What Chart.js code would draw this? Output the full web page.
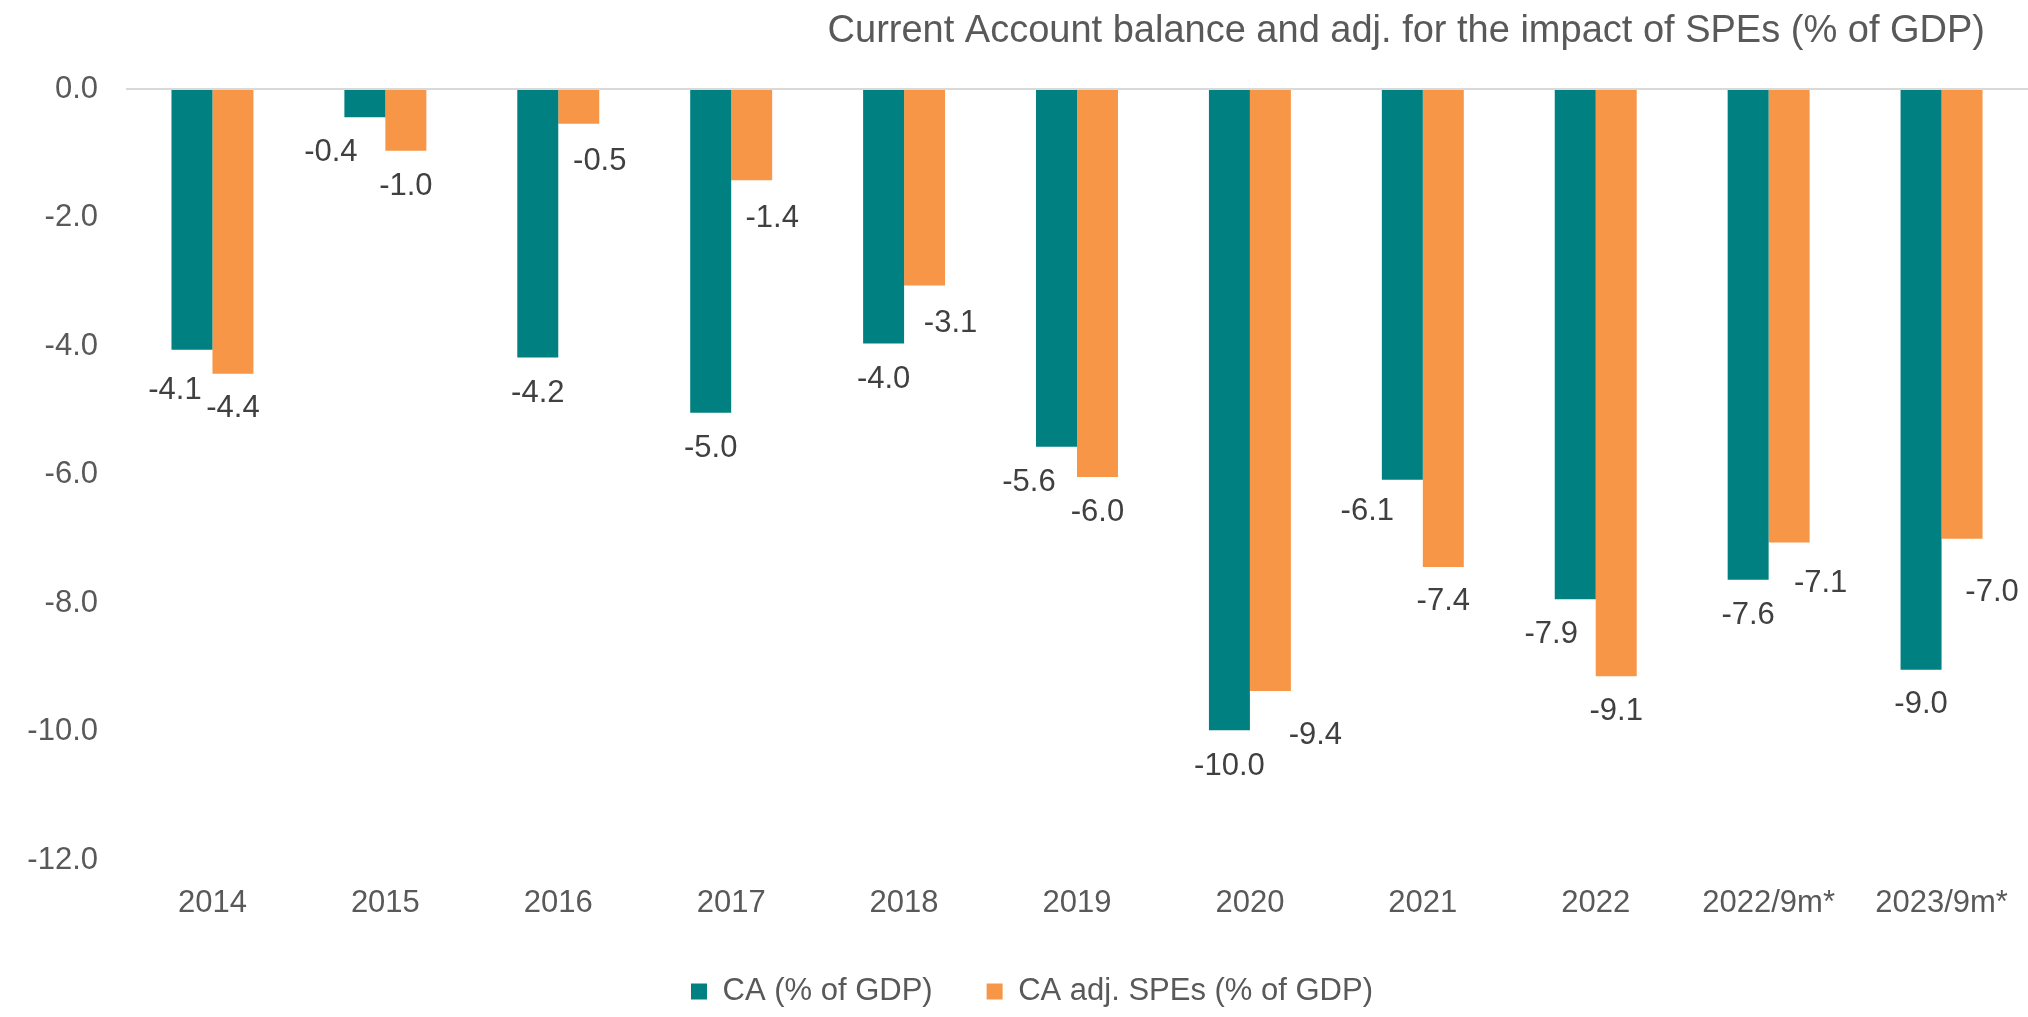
<!DOCTYPE html>
<html><head><meta charset="utf-8">
<script src="https://cdn.jsdelivr.net/npm/chart.js@4.4.0/dist/chart.umd.min.js"></script>
<style>html,body{margin:0;padding:0;background:#fff;overflow:hidden;} #wrap{width:2028px;height:1017px;}</style>
</head><body><div id="wrap"><canvas id="c" width="2028" height="1017"></canvas></div>
<script>
const categories = ['2014','2015','2016','2017','2018','2019','2020','2021','2022','2022/9m*','2023/9m*'];
const caValues = [-4.06,-0.44,-4.18,-5.04,-3.96,-5.57,-9.98,-6.08,-7.94,-7.64,-9.04];
const caAdjValues = [-4.43,-0.96,-0.54,-1.42,-3.06,-6.04,-9.37,-7.44,-9.14,-7.06,-7.00];
const seriesNames = ['CA (% of GDP)','CA adj. SPEs (% of GDP)'];
const yMin = -12, yMax = 0, yStep = 2;
const titleText = 'Current Account balance and adj. for the impact of SPEs (% of GDP)';

const FONT = '"Liberation Sans", Arial, Helvetica, sans-serif';
const TEXT = '#595959';
const LABEL = '#404040';
const COLORS = ['#008080', '#F79646'];
// data-label nudges [dx, dy] in px (label placement only)
const labelShift = [
  [[-17,38],[-34,32.5],[0,33],[0,33],[0,33],[-27.5,33],[0,34],[-35,29.5],[-24,32.5],[0,33],[0,32.5]],
  [[0,32],[0,33],[21,35.5],[20.5,35.3],[26,35.5],[0,33],[45,42],[0,32],[0,33],[31.5,38.5],[30,50.7]]
];

const titlePlugin = {
  id: 'rightTitle',
  afterDraw(chart) {
    const ctx = chart.ctx;
    ctx.save();
    ctx.font = '38px ' + FONT;
    ctx.fillStyle = TEXT;
    ctx.textAlign = 'right';
    ctx.textBaseline = 'alphabetic';
    ctx.fillText(titleText, chart.width - 43, 42);
    ctx.restore();
  }
};

const legendShift = {
  id: 'legendShift',
  afterLayout(chart) {
    if (chart.legend) { chart.legend.left = 36; }
  }
};

const valueLabels = {
  id: 'valueLabels',
  afterDatasetsDraw(chart) {
    const ctx = chart.ctx;
    ctx.save();
    ctx.font = '31px ' + FONT;
    ctx.fillStyle = LABEL;
    ctx.textAlign = 'center';
    ctx.textBaseline = 'alphabetic';
    chart.data.datasets.forEach((ds, i) => {
      const meta = chart.getDatasetMeta(i);
      meta.data.forEach((bar, j) => {
        const v = ds.data[j];
        const [dx, dy] = labelShift[i][j];
        ctx.fillText(v.toFixed(1), bar.x + dx, bar.y + dy + 0.358 * 31);
      });
    });
    ctx.restore();
  }
};

new Chart(document.getElementById('c'), {
  type: 'bar',
  data: {
    labels: categories,
    datasets: [
      { label: seriesNames[0], data: caValues, backgroundColor: COLORS[0], borderWidth: 0 },
      { label: seriesNames[1], data: caAdjValues, backgroundColor: COLORS[1], borderWidth: 0 }
    ]
  },
  options: {
    responsive: false,
    animation: false,
    devicePixelRatio: 1,
    categoryPercentage: 0.474,
    barPercentage: 1,
    layout: { padding: { top: 89, left: 0, right: 0, bottom: 0 } },
    plugins: {
      title: { display: false },
      tooltip: { enabled: false },
      legend: {
        position: 'bottom',
        labels: {
          font: { family: FONT, size: 31 },
          color: TEXT,
          boxWidth: 16,
          boxHeight: 16,
          padding: 54
        }
      }
    },
    scales: {
      x: {
        grid: { display: false },
        border: { display: false },
        ticks: { font: { family: FONT, size: 31 }, color: TEXT, padding: 17, maxRotation: 0, autoSkip: false },
        afterFit(scale) { scale.height = 62; }
      },
      y: {
        min: yMin, max: yMax,
        border: { display: false },
        grid: {
          drawTicks: false,
          lineWidth: 2,
          color: (c) => (c.tick && c.tick.value === 0) ? '#D9D9D9' : 'rgba(0,0,0,0)'
        },
        ticks: {
          stepSize: yStep,
          padding: 28,
          font: { family: FONT, size: 31 },
          color: TEXT,
          callback: (v) => Number(v).toFixed(1)
        },
        afterFit(scale) { scale.width = 126; }
      }
    }
  },
  plugins: [titlePlugin, legendShift, valueLabels]
});
</script>
</body></html>
